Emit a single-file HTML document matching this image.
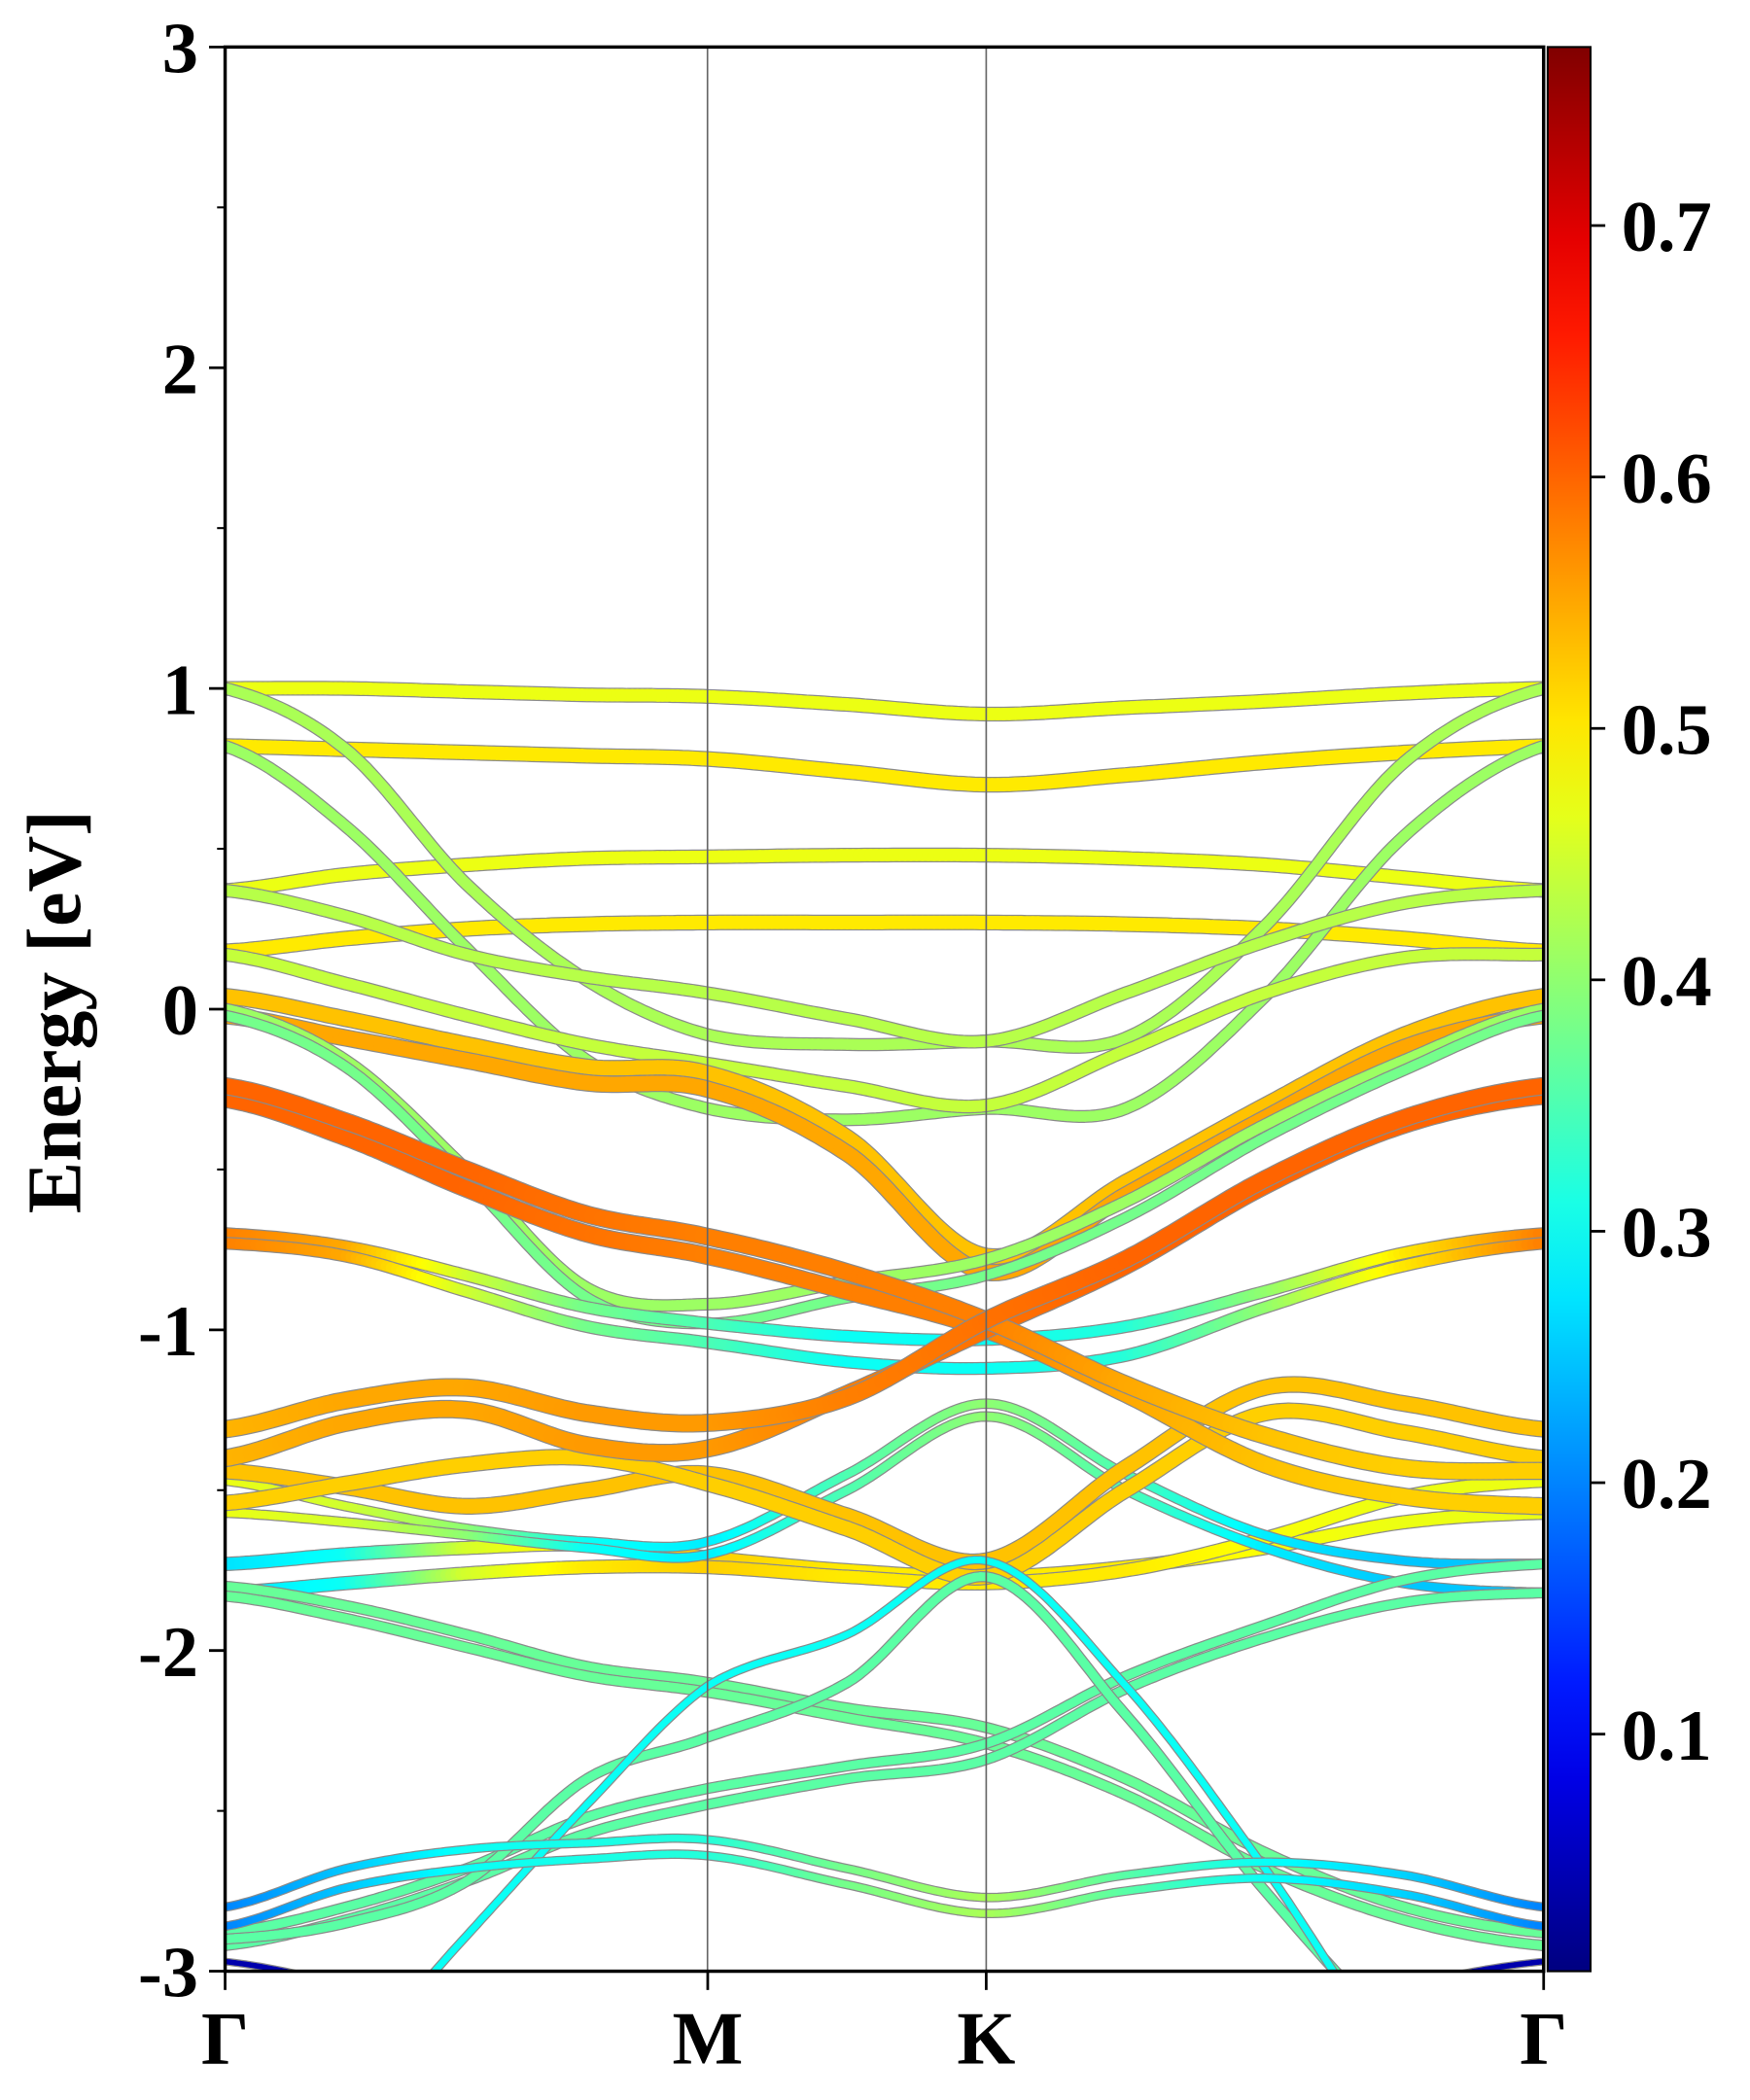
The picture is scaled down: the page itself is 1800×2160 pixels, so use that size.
<!DOCTYPE html>
<html><head><meta charset="utf-8"><style>
html,body{margin:0;padding:0;background:#fff}
svg{display:block}
text{font-family:"Liberation Serif",serif;font-weight:bold;fill:#000}
</style></head><body>
<svg id="chart" width="1800" height="2160" viewBox="0 0 1306 1567" xmlns="http://www.w3.org/2000/svg">
<defs>
<clipPath id="plotclip"><rect x="168" y="35" width="984" height="1436"/></clipPath>
<linearGradient id="jetgrad" x1="0" y1="1" x2="0" y2="0"></linearGradient>
</defs>
<rect x="0" y="0" width="1306" height="1567" fill="#fff"/>
<g id="bands" clip-path="url(#plotclip)"></g>
<line x1="528" y1="35" x2="528" y2="1471" stroke="#666" stroke-width="1.2"/>
<line x1="736" y1="35" x2="736" y2="1471" stroke="#666" stroke-width="1.2"/>
<rect x="168" y="35" width="984" height="1436" fill="none" stroke="#000" stroke-width="2.5"/>
<g id="yaxis"></g>
<g id="xaxis"></g>
<text x="60" y="755" font-size="58" text-anchor="middle" transform="rotate(-90 60 755)">Energy [eV]</text>
<rect x="1155" y="35" width="32" height="1436" fill="url(#jetgrad)" stroke="#000" stroke-width="1.5"/>
<g id="cbaxis"></g>
</svg>
<script>
const kPos = [0,0.25,0.5,0.75,1,1.289,1.577,1.866,2.155,2.443,2.732];
const kLabels = ["Γ","M","K","Γ"];
const kLabelPos = [0,1,1.577,2.732];
const yTicks = [-3,-2,-1,0,1,2,3];
const cbTicks = [0.1,0.2,0.3,0.4,0.5,0.6,0.7];
const bandA = [1.0,1.0,0.99,0.98,0.975,0.95,0.92,0.94,0.96,0.985,1.0];
const bandB = [0.82,0.81,0.80,0.79,0.78,0.74,0.70,0.73,0.77,0.80,0.82];
const bandC = [1.0,0.81,0.39,0.09,-0.08,-0.11,-0.10,-0.09,0.26,0.77,1.0];
const bandD = [0.82,0.57,0.19,-0.16,-0.31,-0.345,-0.31,-0.31,0.04,0.54,0.82];
const bandE = [0.37,0.42,0.45,0.47,0.475,0.48,0.48,0.47,0.45,0.41,0.37];
const bandF = [0.18,0.22,0.25,0.265,0.27,0.27,0.27,0.265,0.25,0.22,0.18];
const bandG = [0.37,0.29,0.17,0.10,0.05,-0.03,-0.10,0.05,0.21,0.33,0.37];
const bandH = [0.17,0.08,-0.02,-0.11,-0.17,-0.24,-0.30,-0.13,0.05,0.16,0.17];
const bandI = [0.04,-0.03,-0.11,-0.18,-0.20,-0.40,-0.77,-0.54,-0.30,-0.08,0.04];
const bandJ = [-0.02,-0.09,-0.16,-0.23,-0.25,-0.45,-0.82,-0.58,-0.34,-0.12,-0.02];
const bandK1 = [0.0,-0.16,-0.50,-0.87,-0.92,-0.85,-0.78,-0.60,-0.36,-0.16,0.0];
const bandK2 = [-0.02,-0.18,-0.53,-0.90,-0.98,-0.90,-0.83,-0.65,-0.40,-0.19,-0.02];
const bandO1 = [-0.24,-0.35,-0.50,-0.64,-0.71,-0.82,-0.97,-1.17,-1.33,-1.43,-1.44];
const bandO2 = [-1.31,-1.22,-1.18,-1.26,-1.29,-1.21,-0.97,-0.78,-0.53,-0.34,-0.24];
const bandO3 = [-0.28,-0.40,-0.56,-0.70,-0.77,-0.88,-1.0,-1.20,-1.42,-1.52,-1.55];
const bandO4 = [-1.40,-1.29,-1.25,-1.36,-1.37,-1.20,-1.0,-0.80,-0.55,-0.36,-0.27];
const bandP1 = [-1.44,-1.49,-1.55,-1.50,-1.45,-1.58,-1.72,-1.43,-1.18,-1.23,-1.31];
const bandP2 = [-1.54,-1.48,-1.42,-1.40,-1.48,-1.62,-1.77,-1.50,-1.26,-1.32,-1.40];
const bandL1 = [-0.70,-0.74,-0.83,-0.93,-0.98,-1.02,-1.03,-0.99,-0.88,-0.76,-0.70];
const bandL2 = [-0.73,-0.77,-0.88,-0.99,-1.04,-1.10,-1.12,-1.08,-0.93,-0.80,-0.73];
const bandQ2 = [-1.47,-1.55,-1.62,-1.66,-1.66,-1.45,-1.23,-1.45,-1.64,-1.72,-1.73];
const bandQ3 = [-1.57,-1.60,-1.64,-1.68,-1.70,-1.50,-1.27,-1.50,-1.68,-1.79,-1.82];
const bandY1 = [-1.73,-1.70,-1.68,-1.67,-1.71,-1.75,-1.77,-1.74,-1.68,-1.60,-1.57];
const bandY2 = [-1.82,-1.79,-1.76,-1.74,-1.74,-1.77,-1.79,-1.75,-1.65,-1.52,-1.47];
const bandR1 = [-1.80,-1.86,-1.95,-2.05,-2.10,-2.18,-2.24,-2.40,-2.63,-2.80,-2.88];
const bandR2 = [-1.83,-1.90,-1.99,-2.08,-2.13,-2.21,-2.29,-2.45,-2.68,-2.84,-2.92];
const bandT1 = [-2.90,-2.85,-2.72,-2.40,-2.27,-2.10,-1.77,-2.2,-2.75,-3.2,-3.4];
const bandT2 = [-2.88,-2.80,-2.68,-2.52,-2.43,-2.36,-2.29,-2.08,-1.92,-1.78,-1.73];
const bandT3 = [-2.92,-2.84,-2.72,-2.57,-2.48,-2.40,-2.34,-2.12,-1.96,-1.85,-1.82];
const bandS1 = [-3.6,-3.3,-2.89,-2.48,-2.11,-1.95,-1.72,-2.11,-2.68,-3.3,-3.6];
const bandU1 = [-2.80,-2.68,-2.62,-2.60,-2.59,-2.68,-2.77,-2.70,-2.66,-2.70,-2.80];
const bandU2 = [-2.86,-2.74,-2.68,-2.65,-2.64,-2.73,-2.82,-2.75,-2.71,-2.76,-2.86];
const bandW = [-2.97,-3.05,-3.2,-3.3,-3.4,-3.4,-3.4,-3.3,-3.2,-3.05,-2.97];
const wL = [0.58,0.55,0.45,0.38,0.35,0.3,0.3,0.32,0.4,0.5,0.58];
const wQ = [0.47,0.45,0.4,0.3,0.28,0.35,0.4,0.35,0.28,0.25,0.25];
const wY = [0.27,0.3,0.45,0.5,0.52,0.5,0.5,0.5,0.48,0.47,0.47];
const wU = [0.2,0.25,0.3,0.31,0.32,0.38,0.42,0.36,0.3,0.26,0.2];
const wO1 = [0.6,0.6,0.6,0.59,0.58,0.58,0.58,0.55,0.53,0.52,0.52];
const wO2 = [0.54,0.55,0.55,0.56,0.56,0.58,0.59,0.6,0.6,0.6,0.6];
const bands = [
 [bandA,0.47],[bandB,0.5],[bandE,0.47],[bandF,0.5],[bandC,0.42],[bandD,0.41],[bandG,0.43],[bandH,0.44],
 [bandI,0.53],[bandJ,0.55],[bandK1,0.41],[bandK2,0.38],[bandL1,wL],[bandL2,wL],
 [bandY1,wY],[bandY2,wY],[bandQ2,wQ],[bandQ3,wQ],[bandP1,0.53],[bandP2,0.52],
 [bandR1,0.37],[bandR2,0.37],[bandT2,0.36],[bandT3,0.36],[bandT1,0.36],[bandS1,0.3],
 [bandU1,wU],[bandU2,wU],[bandW,0.04],
 [bandO3,wO1],[bandO4,wO2],[bandO1,wO1],[bandO2,wO2]
];
const X0=168,X1=1152,Y0=35,Y1=1471,EMIN=-3,EMAX=3,KMAX=2.732;
const CMIN=0.0057,CMAX=0.771;
function xScale(k){return X0+k*(X1-X0)/KMAX;}
function yScale(e){return Y0+(EMAX-e)*(Y1-Y0)/(EMAX-EMIN);}
function cbScale(v){return Y1-(v-CMIN)/(CMAX-CMIN)*(Y1-Y0);}
function clamp(v){return Math.max(0,Math.min(1,v));}
function jet(t){t=clamp(t);const r=clamp(1.5-Math.abs(4*t-3)),g=clamp(1.5-Math.abs(4*t-2)),b=clamp(1.5-Math.abs(4*t-1));
 return 'rgb('+Math.round(r*255)+','+Math.round(g*255)+','+Math.round(b*255)+')';}
const NS='http://www.w3.org/2000/svg';
function mk(tag,attrs,parent){const e=document.createElementNS(NS,tag);for(const a in attrs)e.setAttribute(a,attrs[a]);parent.appendChild(e);return e;}
const grad=document.getElementById('jetgrad');
for(let i=0;i<=20;i++){const s=document.createElementNS(NS,'stop');s.setAttribute('offset',(i/20));s.setAttribute('stop-color',jet(i/20));grad.appendChild(s);}
const gB=document.getElementById('bands');
function cr(p0,p1,p2,p3,t){const t2=t*t,t3=t2*t;return 0.5*((2*p1)+(-p0+p2)*t+(2*p0-5*p1+4*p2-p3)*t2+(-p0+3*p1-3*p2+p3)*t3);}
bands.forEach((bd,bi)=>{
 const vals=bd[0],wt=bd[1];
 const pts=[];
 const n=kPos.length;
 for(let i=0;i<n-1;i++){
  const i0=Math.max(0,i-1),i3=Math.min(n-1,i+2);
  const steps=24;
  for(let s=0;s<steps;s++){
   const t=s/steps;
   const k=kPos[i]+(kPos[i+1]-kPos[i])*t;
   const e=cr(vals[i0],vals[i],vals[i+1],vals[i3],t);
   const c=Array.isArray(wt)?wt[i]+(wt[i+1]-wt[i])*t:wt;
   pts.push([xScale(k),yScale(e),c]);
  }
 }
 pts.push([xScale(kPos[n-1]),yScale(vals[n-1]),Array.isArray(wt)?wt[n-1]:wt]);
 const g=mk('g',{},gB);
 
 
 const cavg=pts.reduce((a,p)=>a+p[2],0)/pts.length;
 const w=Math.max(4,5+(cavg-0.3)*25);
 const d='M'+pts.map(p=>p[0].toFixed(1)+' '+p[1].toFixed(1)).join(' L');
 mk('path',{d:d,fill:'none',stroke:'#8a8a8a','stroke-width':w+1.8,'stroke-linejoin':'round'},g);
 for(let i=0;i<pts.length-1;i++){
  const c=(pts[i][2]+pts[i+1][2])/2;
  mk('line',{x1:pts[i][0].toFixed(1),y1:pts[i][1].toFixed(1),x2:pts[i+1][0].toFixed(1),y2:pts[i+1][1].toFixed(1),stroke:jet((c-CMIN)/(CMAX-CMIN)),'stroke-width':w,'stroke-linecap':'round'},g);
 }
});
const gY=document.getElementById('yaxis');
yTicks.forEach(v=>{
 const y=yScale(v);
 mk('line',{x1:156,y1:y,x2:168,y2:y,stroke:'#000','stroke-width':2},gY);
 const t=mk('text',{x:148,y:y+19,'font-size':54,'text-anchor':'end'},gY);
 t.textContent=String(v);
 
 
});
for(let v=-2.5;v<3;v+=1){const y=yScale(v);mk('line',{x1:162,y1:y,x2:168,y2:y,stroke:'#000','stroke-width':1.5},gY);}
const gX=document.getElementById('xaxis');
kLabels.forEach((l,i)=>{
 const x=xScale(kLabelPos[i]);
 mk('line',{x1:x,y1:1471,x2:x,y2:1485,stroke:'#000','stroke-width':2},gX);
 const t=mk('text',{x:x,y:1540,'font-size':56,'text-anchor':'middle'},gX);
 t.textContent=l;
 
 
});
const gC=document.getElementById('cbaxis');
cbTicks.forEach(v=>{
 const y=cbScale(v);
 mk('line',{x1:1187,y1:y,x2:1198,y2:y,stroke:'#000','stroke-width':2},gC);
 const t=mk('text',{x:1210,y:y+19,'font-size':54,'text-anchor':'start'},gC);
 t.textContent=v.toFixed(1);
 
 
});
</script>
</body></html>
